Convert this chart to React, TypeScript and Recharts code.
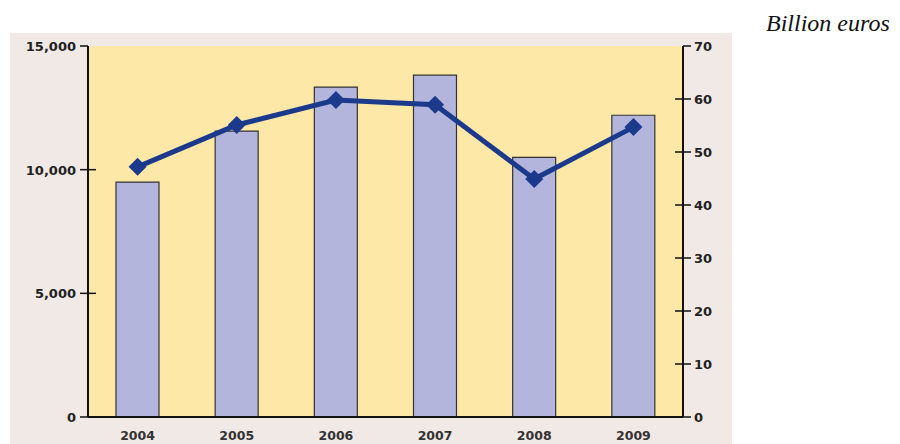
import React from "react";
import { ComposedChart, Bar, Line, XAxis, YAxis } from "recharts";

const years = ["2004", "2005", "2006", "2007", "2008", "2009"];
const barValues = [9500, 11560, 13340, 13820, 10500, 12200];
const lineValues = [47.2, 55.1, 59.8, 58.9, 44.9, 54.7];
const leftTicks = [0, 5000, 10000, 15000];
const rightTicks = [0, 10, 20, 30, 40, 50, 60, 70];

const data = years.map((year, i) => ({ year, bars: barValues[i], line: lineValues[i] }));

const tickFont = "'DejaVu Sans', sans-serif";

const LeftTick = (props: any) => {
  const { x, y, payload, index } = props;
  const ax = x + 10;
  const last = index === leftTicks.length - 1;
  const inner = index === 0 || last ? ax : ax + 8;
  return (
    <g>
      <line x1={ax - 8} x2={inner} y1={y} y2={y} stroke="#111" strokeWidth={1.5} />
      <text x={x - 2} y={y} dy={5} textAnchor="end" fontSize={13} fontFamily={tickFont} fill="#222" fontWeight="bold">
        {payload.value.toLocaleString("en-US")}
      </text>
    </g>
  );
};

const RightTick = (props: any) => {
  const { x, y, payload, index } = props;
  const ax = x - 10;
  const last = index === rightTicks.length - 1;
  const inner = index === 0 || last ? ax : ax - 8;
  return (
    <g>
      <line x1={inner} x2={ax + 8} y1={y} y2={y} stroke="#111" strokeWidth={1.5} />
      <text x={x + 1} y={y} dy={5} textAnchor="start" fontSize={13} fontFamily={tickFont} fill="#222" fontWeight="bold">
        {payload.value}
      </text>
    </g>
  );
};

const Diamond = (props: any) => {
  const { cx, cy } = props;
  const r = 9;
  return (
    <polygon
      points={`${cx},${cy - r} ${cx + r},${cy} ${cx},${cy + r} ${cx - r},${cy}`}
      fill="#1c3a8c"
    />
  );
};

export default function App() {
  return (
    <div style={{ position: "absolute", left: 0, top: 0, width: 900, height: 444, background: "#fff" }}>
      <div style={{ position: "absolute", left: 10, top: 33, width: 722, height: 411, background: "#f1e9e6" }} />
      {/* plot area background */}
      <div style={{ position: "absolute", left: 88, top: 46, width: 595, height: 371, background: "#fde8a8" }} />
      <div
        style={{
          position: "absolute",
          left: 766,
          top: 10,
          fontFamily: "'Liberation Serif', serif",
          fontStyle: "italic",
          fontSize: 24,
          color: "#111",
        }}
      >
        Billion euros
      </div>
      <div style={{ position: "absolute", left: 0, top: 0 }}>
        <ComposedChart width={900} height={444} data={data} margin={{ top: 46, right: 172, bottom: 0, left: 10 }}>
          <XAxis
            dataKey="year"
            height={27}
            tickLine={false}
            axisLine={{ stroke: "#111", strokeWidth: 2 }}
            tick={{ fontSize: 12.5, fontFamily: tickFont, fill: "#333", fontWeight: "bold" }}
            tickMargin={8}
          />
          <YAxis
            yAxisId="left"
            orientation="left"
            width={78}
            domain={[0, 15000]}
            ticks={leftTicks}
            interval={0}
            tickLine={false}
            tickSize={8}
            tickMargin={2}
            axisLine={{ stroke: "#111", strokeWidth: 2 }}
            tick={<LeftTick />}
          />
          <YAxis
            yAxisId="right"
            orientation="right"
            width={45}
            domain={[0, 70]}
            ticks={rightTicks}
            interval={0}
            tickLine={false}
            tickSize={8}
            tickMargin={2}
            axisLine={{ stroke: "#111", strokeWidth: 2 }}
            tick={<RightTick />}
          />
          <Bar yAxisId="left" dataKey="bars" barSize={43} fill="#b3b5dc" stroke="#333" strokeWidth={1.2} isAnimationActive={false} />
          <Line
            yAxisId="right"
            dataKey="line"
            type="linear"
            stroke="#1c3a8c"
            strokeWidth={5}
            dot={<Diamond />}
            activeDot={false}
            isAnimationActive={false}
          />
        </ComposedChart>
      </div>
    </div>
  );
}
